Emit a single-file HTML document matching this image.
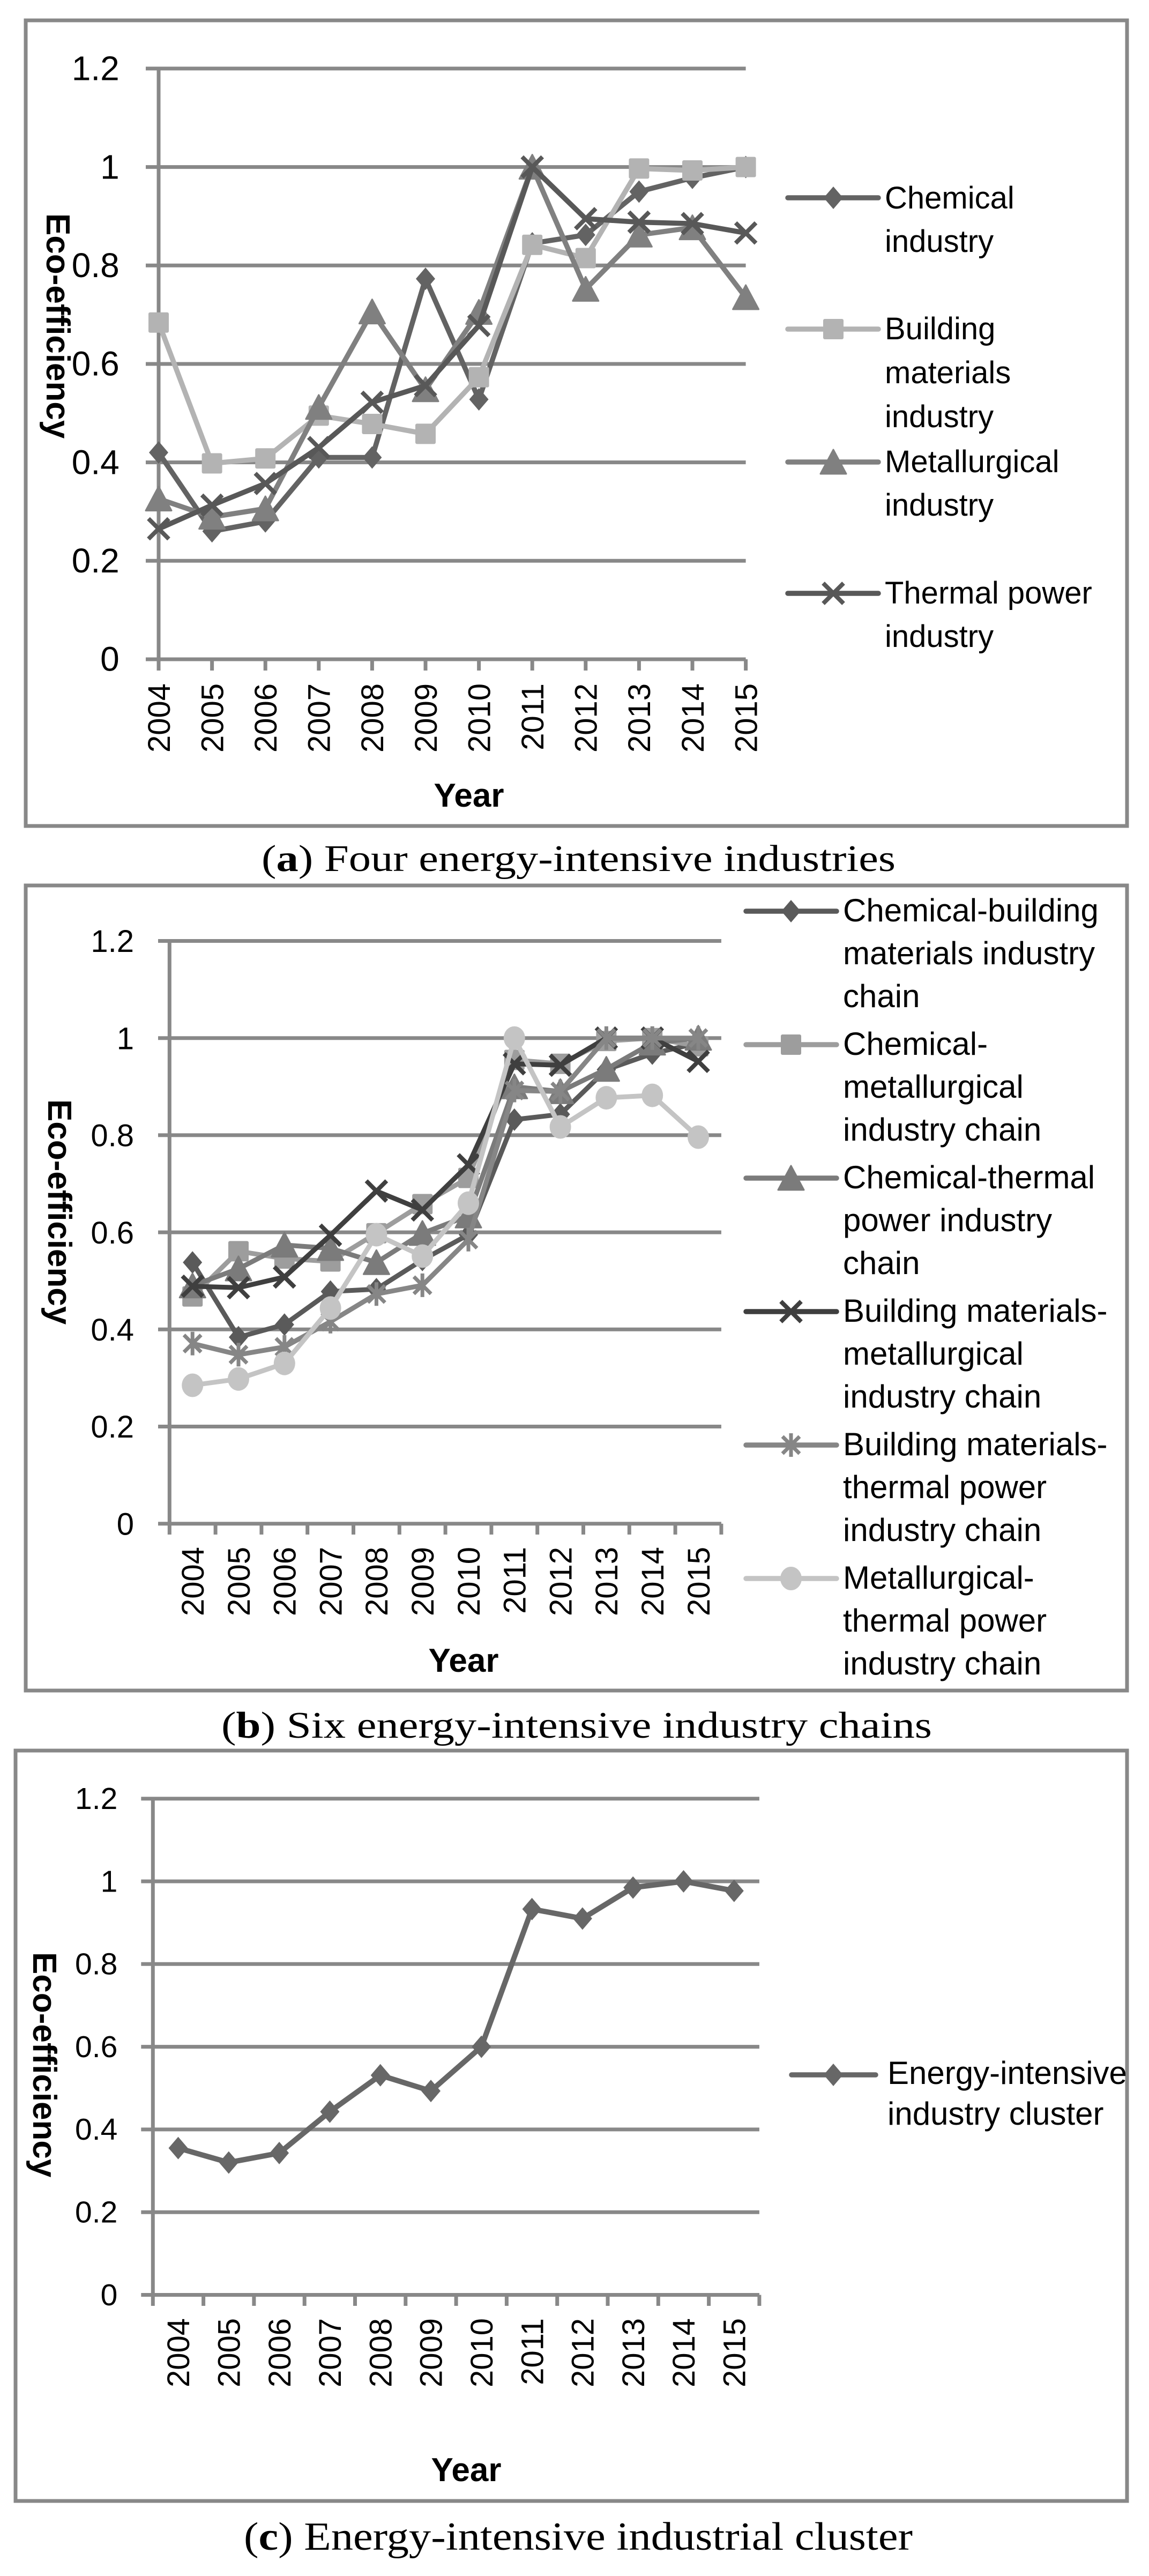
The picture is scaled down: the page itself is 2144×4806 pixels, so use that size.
<!DOCTYPE html>
<html><head><meta charset="utf-8"><style>html,body{margin:0;padding:0;background:#fff}svg{display:block}</style></head>
<body>
<svg xmlns="http://www.w3.org/2000/svg" xmlns:xlink="http://www.w3.org/1999/xlink" width="2144" height="4806" viewBox="0 0 2144 4806">
<defs>
<polygon id="dia" points="0,-21 18,0 0,21 -18,0" stroke-linejoin="round"/>
<rect id="sq" x="-19" y="-19" width="38" height="38" rx="3"/>
<polygon id="tri" points="0,-23 24,22 -24,22" stroke-width="3" stroke-linejoin="round"/>
<path id="xm" d="M-19,-19L19,19M19,-19L-19,19" fill="none" stroke-width="8" stroke-linecap="butt"/>
<path id="ast" d="M-16,-16L16,16M16,-16L-16,16M0,-22L0,22" fill="none" stroke-width="7"/>
<ellipse id="cir" rx="20" ry="22"/>
</defs>
<rect width="2144" height="4806" fill="#fff"/>

<!-- ================= CHART A ================= -->
<rect x="48" y="38" width="2055" height="1503" fill="none" stroke="#888" stroke-width="7"/>
<path d="M272,127.9H1391.6M272,311.6H1391.6M272,495.3H1391.6M272,679H1391.6M272,862.6H1391.6M272,1046.3H1391.6M272,1230H1391.6" stroke="#888" stroke-width="7" fill="none"/>
<path d="M296,127.9V1251M395.6,1230V1251M495.2,1230V1251M594.8,1230V1251M694.4,1230V1251M794,1230V1251M893.6,1230V1251M993.2,1230V1251M1092.8,1230V1251M1192.4,1230V1251M1292,1230V1251M1391.6,1230V1251" stroke="#888" stroke-width="7" fill="none"/>
<g font-family="'Liberation Sans', sans-serif" font-size="64" text-anchor="end" fill="#000">
<text x="222.7" y="149.6">1.2</text>
<text x="222.7" y="333.3">1</text>
<text x="222.7" y="517">0.8</text>
<text x="222.7" y="700.7">0.6</text>
<text x="222.7" y="884.3">0.4</text>
<text x="222.7" y="1068">0.2</text>
<text x="222.7" y="1251.7">0</text>
</g>
<g font-family="'Liberation Sans', sans-serif" font-size="58" text-anchor="end" fill="#000">
<text transform="translate(316.75,1275) rotate(-90)">2004</text>
<text transform="translate(416.35,1275) rotate(-90)">2005</text>
<text transform="translate(515.95,1275) rotate(-90)">2006</text>
<text transform="translate(615.55,1275) rotate(-90)">2007</text>
<text transform="translate(715.15,1275) rotate(-90)">2008</text>
<text transform="translate(814.75,1275) rotate(-90)">2009</text>
<text transform="translate(914.35,1275) rotate(-90)">2010</text>
<text transform="translate(1013.95,1275) rotate(-90)">2011</text>
<text transform="translate(1113.55,1275) rotate(-90)">2012</text>
<text transform="translate(1213.15,1275) rotate(-90)">2013</text>
<text transform="translate(1312.75,1275) rotate(-90)">2014</text>
<text transform="translate(1412.35,1275) rotate(-90)">2015</text>
</g>
<text transform="translate(87,398) rotate(90)" font-family="'Liberation Sans', sans-serif" font-size="62" font-weight="bold">Eco-efficiency</text>
<text x="875" y="1505" text-anchor="middle" font-family="'Liberation Sans', sans-serif" font-size="62" font-weight="bold">Year</text>

<!-- series a1 chemical -->
<g fill="#636363" stroke="#636363">
<polyline fill="none" stroke-width="9.5" stroke-linejoin="round" stroke-linecap="round" points="296,844.3 395.6,991.2 495.2,972.8 594.8,853.5 694.4,853.5 794,520.1 893.6,745.1 993.2,454 1092.8,438.3 1192.4,357.5 1292,331.8 1391.6,311.6"/>
<g stroke="none">
<use xlink:href="#dia" x="296" y="844.3"/><use xlink:href="#dia" x="395.6" y="991.2"/><use xlink:href="#dia" x="495.2" y="972.8"/><use xlink:href="#dia" x="594.8" y="853.5"/><use xlink:href="#dia" x="694.4" y="853.5"/><use xlink:href="#dia" x="794" y="520.1"/><use xlink:href="#dia" x="893.6" y="745.1"/><use xlink:href="#dia" x="993.2" y="454"/><use xlink:href="#dia" x="1092.8" y="438.3"/><use xlink:href="#dia" x="1192.4" y="357.5"/><use xlink:href="#dia" x="1292" y="331.8"/><use xlink:href="#dia" x="1391.6" y="311.6"/>
</g></g>
<!-- series a2 building -->
<g fill="#b3b3b3" stroke="#b3b3b3">
<polyline fill="none" stroke-width="9.5" stroke-linejoin="round" stroke-linecap="round" points="296,601.8 395.6,864.5 495.2,855.3 594.8,775.4 694.4,791 794,809.4 893.6,703.8 993.2,456.7 1092.8,481.5 1192.4,314.4 1292,318 1391.6,311.6"/>
<g stroke="none">
<use xlink:href="#sq" x="296" y="601.8"/><use xlink:href="#sq" x="395.6" y="864.5"/><use xlink:href="#sq" x="495.2" y="855.3"/><use xlink:href="#sq" x="594.8" y="775.4"/><use xlink:href="#sq" x="694.4" y="791"/><use xlink:href="#sq" x="794" y="809.4"/><use xlink:href="#sq" x="893.6" y="703.8"/><use xlink:href="#sq" x="993.2" y="456.7"/><use xlink:href="#sq" x="1092.8" y="481.5"/><use xlink:href="#sq" x="1192.4" y="314.4"/><use xlink:href="#sq" x="1292" y="318"/><use xlink:href="#sq" x="1391.6" y="311.6"/>
</g></g>
<!-- series a3 metallurgical -->
<g fill="#808080" stroke="#808080">
<polyline fill="none" stroke-width="9.5" stroke-linejoin="round" stroke-linecap="round" points="296,930.6 395.6,964.6 495.2,949 594.8,759.8 694.4,581.6 794,726.7 893.6,582.5 993.2,311.6 1092.8,539.4 1192.4,438.3 1292,424.6 1391.6,555"/>
<use xlink:href="#tri" x="296" y="930.6"/><use xlink:href="#tri" x="395.6" y="964.6"/><use xlink:href="#tri" x="495.2" y="949"/><use xlink:href="#tri" x="594.8" y="759.8"/><use xlink:href="#tri" x="694.4" y="581.6"/><use xlink:href="#tri" x="794" y="726.7"/><use xlink:href="#tri" x="893.6" y="582.5"/><use xlink:href="#tri" x="993.2" y="311.6"/><use xlink:href="#tri" x="1092.8" y="539.4"/><use xlink:href="#tri" x="1192.4" y="438.3"/><use xlink:href="#tri" x="1292" y="424.6"/><use xlink:href="#tri" x="1391.6" y="555"/>
</g>
<!-- series a4 thermal -->
<g stroke="#585858">
<polyline fill="none" stroke-width="9.5" stroke-linejoin="round" stroke-linecap="round" points="296,986.6 395.6,942.5 495.2,902.1 594.8,835.1 694.4,750.6 794,719.4 893.6,607.3 993.2,311.6 1092.8,408 1192.4,414.5 1292,417.2 1391.6,434.7"/>
<use xlink:href="#xm" x="296" y="986.6"/><use xlink:href="#xm" x="395.6" y="942.5"/><use xlink:href="#xm" x="495.2" y="902.1"/><use xlink:href="#xm" x="594.8" y="835.1"/><use xlink:href="#xm" x="694.4" y="750.6"/><use xlink:href="#xm" x="794" y="719.4"/><use xlink:href="#xm" x="893.6" y="607.3"/><use xlink:href="#xm" x="993.2" y="311.6"/><use xlink:href="#xm" x="1092.8" y="408"/><use xlink:href="#xm" x="1192.4" y="414.5"/><use xlink:href="#xm" x="1292" y="417.2"/><use xlink:href="#xm" x="1391.6" y="434.7"/>
</g>

<!-- legend a -->
<g stroke-width="9.5" stroke-linecap="round">
<line x1="1470" y1="369" x2="1639" y2="369" stroke="#636363"/>
<line x1="1470" y1="614" x2="1639" y2="614" stroke="#b3b3b3"/>
<line x1="1470" y1="862" x2="1639" y2="862" stroke="#808080"/>
<line x1="1470" y1="1107" x2="1639" y2="1107" stroke="#585858"/>
</g>
<use xlink:href="#dia" x="1555" y="369" fill="#636363"/>
<use xlink:href="#sq" x="1555" y="614" fill="#b3b3b3"/>
<use xlink:href="#tri" x="1555" y="862" fill="#808080" stroke="#808080"/>
<use xlink:href="#xm" x="1555" y="1107" stroke="#585858"/>
<g font-family="'Liberation Sans', sans-serif" font-size="58" fill="#000">
<text x="1651" y="389">Chemical</text>
<text x="1651" y="470">industry</text>
<text x="1651" y="633">Building</text>
<text x="1651" y="715">materials</text>
<text x="1651" y="797">industry</text>
<text x="1651" y="881">Metallurgical</text>
<text x="1651" y="962">industry</text>
<text x="1651" y="1126">Thermal power</text>
<text x="1651" y="1207">industry</text>
</g>

<text x="488" y="1625" textLength="1183" lengthAdjust="spacingAndGlyphs" font-family="'Liberation Serif', serif" font-size="70" fill="#000">(<tspan font-weight="bold">a</tspan>) Four energy-intensive industries</text>

<!-- ================= CHART B ================= -->
<rect x="48" y="1652" width="2055" height="1502" fill="none" stroke="#888" stroke-width="7"/>
<path d="M295,1755.5H1345.9M295,1936.7H1345.9M295,2117.9H1345.9M295,2299.1H1345.9M295,2480.3H1345.9M295,2661.5H1345.9M295,2842.7H1345.9" stroke="#888" stroke-width="7" fill="none"/>
<path d="M316.3,1755.5V2863M402.1,2842.7V2863M487.9,2842.7V2863M573.7,2842.7V2863M659.5,2842.7V2863M745.3,2842.7V2863M831.1,2842.7V2863M916.9,2842.7V2863M1002.7,2842.7V2863M1088.5,2842.7V2863M1174.3,2842.7V2863M1260.1,2842.7V2863M1345.9,2842.7V2863" stroke="#888" stroke-width="7" fill="none"/>
<g font-family="'Liberation Sans', sans-serif" font-size="58" text-anchor="end" fill="#000">
<text x="250" y="1776.2">1.2</text>
<text x="250" y="1957.4">1</text>
<text x="250" y="2138.6">0.8</text>
<text x="250" y="2319.8">0.6</text>
<text x="250" y="2501">0.4</text>
<text x="250" y="2682.2">0.2</text>
<text x="250" y="2863.4">0</text>
</g>
<g font-family="'Liberation Sans', sans-serif" font-size="58" text-anchor="end" fill="#000">
<text transform="translate(379.95,2886) rotate(-90)">2004</text>
<text transform="translate(465.75,2886) rotate(-90)">2005</text>
<text transform="translate(551.55,2886) rotate(-90)">2006</text>
<text transform="translate(637.35,2886) rotate(-90)">2007</text>
<text transform="translate(723.15,2886) rotate(-90)">2008</text>
<text transform="translate(808.95,2886) rotate(-90)">2009</text>
<text transform="translate(894.75,2886) rotate(-90)">2010</text>
<text transform="translate(980.55,2886) rotate(-90)">2011</text>
<text transform="translate(1066.35,2886) rotate(-90)">2012</text>
<text transform="translate(1152.15,2886) rotate(-90)">2013</text>
<text transform="translate(1237.95,2886) rotate(-90)">2014</text>
<text transform="translate(1323.75,2886) rotate(-90)">2015</text>
</g>
<text transform="translate(90,2051) rotate(90)" font-family="'Liberation Sans', sans-serif" font-size="62" font-weight="bold">Eco-efficiency</text>
<text x="865" y="3119" text-anchor="middle" font-family="'Liberation Sans', sans-serif" font-size="62" font-weight="bold">Year</text>

<!-- b1 diamond -->
<g fill="#5a5a5a" stroke="#5a5a5a">
<polyline fill="none" stroke-width="9" stroke-linejoin="round" stroke-linecap="round" points="359.2,2355.3 445,2494.8 530.8,2471.2 616.6,2409.6 702.4,2405.1 788.2,2350.7 874,2303.6 959.8,2088.9 1045.6,2078.9 1131.4,1995.6 1217.2,1965.7 1303,1945.8"/>
<g stroke="none">
<use xlink:href="#dia" x="359.2" y="2355.3"/><use xlink:href="#dia" x="445" y="2494.8"/><use xlink:href="#dia" x="530.8" y="2471.2"/><use xlink:href="#dia" x="616.6" y="2409.6"/><use xlink:href="#dia" x="702.4" y="2405.1"/><use xlink:href="#dia" x="788.2" y="2350.7"/><use xlink:href="#dia" x="874" y="2303.6"/><use xlink:href="#dia" x="959.8" y="2088.9"/><use xlink:href="#dia" x="1045.6" y="2078.9"/><use xlink:href="#dia" x="1131.4" y="1995.6"/><use xlink:href="#dia" x="1217.2" y="1965.7"/><use xlink:href="#dia" x="1303" y="1945.8"/>
</g></g>
<!-- b2 square -->
<g fill="#9d9d9d" stroke="#9d9d9d">
<polyline fill="none" stroke-width="9" stroke-linejoin="round" stroke-linecap="round" points="359.2,2418.7 445,2334.4 530.8,2348 616.6,2353.5 702.4,2300.9 788.2,2246.5 874,2197.6 959.8,1977.5 1045.6,1984.7 1131.4,1942.1 1217.2,1936.7 1303,1952.1"/>
<g stroke="none">
<use xlink:href="#sq" x="359.2" y="2418.7"/><use xlink:href="#sq" x="445" y="2334.4"/><use xlink:href="#sq" x="530.8" y="2348"/><use xlink:href="#sq" x="616.6" y="2353.5"/><use xlink:href="#sq" x="702.4" y="2300.9"/><use xlink:href="#sq" x="788.2" y="2246.5"/><use xlink:href="#sq" x="874" y="2197.6"/><use xlink:href="#sq" x="959.8" y="1977.5"/><use xlink:href="#sq" x="1045.6" y="1984.7"/><use xlink:href="#sq" x="1131.4" y="1942.1"/><use xlink:href="#sq" x="1217.2" y="1936.7"/><use xlink:href="#sq" x="1303" y="1952.1"/>
</g></g>
<!-- b3 triangle -->
<g fill="#7b7b7b" stroke="#7b7b7b">
<polyline fill="none" stroke-width="9" stroke-linejoin="round" stroke-linecap="round" points="359.2,2398.8 445,2367 530.8,2322.7 616.6,2329 702.4,2355.3 788.2,2300.9 874,2268.3 959.8,2027.3 1045.6,2036.4 1131.4,1994.7 1217.2,1945.8 1303,1936.7"/>
<use xlink:href="#tri" x="359.2" y="2398.8"/><use xlink:href="#tri" x="445" y="2367"/><use xlink:href="#tri" x="530.8" y="2322.7"/><use xlink:href="#tri" x="616.6" y="2329"/><use xlink:href="#tri" x="702.4" y="2355.3"/><use xlink:href="#tri" x="788.2" y="2300.9"/><use xlink:href="#tri" x="874" y="2268.3"/><use xlink:href="#tri" x="959.8" y="2027.3"/><use xlink:href="#tri" x="1045.6" y="2036.4"/><use xlink:href="#tri" x="1131.4" y="1994.7"/><use xlink:href="#tri" x="1217.2" y="1945.8"/><use xlink:href="#tri" x="1303" y="1936.7"/>
</g>
<!-- b4 X -->
<g stroke="#3f3f3f">
<polyline fill="none" stroke-width="9" stroke-linejoin="round" stroke-linecap="round" points="359.2,2399.7 445,2402.4 530.8,2382.5 616.6,2304.5 702.4,2222.1 788.2,2257.4 874,2173.2 959.8,1984.7 1045.6,1987.4 1131.4,1936.7 1217.2,1936.7 1303,1980.2"/>
<use xlink:href="#xm" x="359.2" y="2399.7"/><use xlink:href="#xm" x="445" y="2402.4"/><use xlink:href="#xm" x="530.8" y="2382.5"/><use xlink:href="#xm" x="616.6" y="2304.5"/><use xlink:href="#xm" x="702.4" y="2222.1"/><use xlink:href="#xm" x="788.2" y="2257.4"/><use xlink:href="#xm" x="874" y="2173.2"/><use xlink:href="#xm" x="959.8" y="1984.7"/><use xlink:href="#xm" x="1045.6" y="1987.4"/><use xlink:href="#xm" x="1131.4" y="1936.7"/><use xlink:href="#xm" x="1217.2" y="1936.7"/><use xlink:href="#xm" x="1303" y="1980.2"/>
</g>
<!-- b5 asterisk -->
<g stroke="#868686">
<polyline fill="none" stroke-width="9" stroke-linejoin="round" stroke-linecap="round" points="359.2,2506.6 445,2527.4 530.8,2512.9 616.6,2465.8 702.4,2414.2 788.2,2397.9 874,2312.7 959.8,2034.5 1045.6,2036.4 1131.4,1936.7 1217.2,1936.7 1303,1936.7"/>
<use xlink:href="#ast" x="359.2" y="2506.6"/><use xlink:href="#ast" x="445" y="2527.4"/><use xlink:href="#ast" x="530.8" y="2512.9"/><use xlink:href="#ast" x="616.6" y="2465.8"/><use xlink:href="#ast" x="702.4" y="2414.2"/><use xlink:href="#ast" x="788.2" y="2397.9"/><use xlink:href="#ast" x="874" y="2312.7"/><use xlink:href="#ast" x="959.8" y="2034.5"/><use xlink:href="#ast" x="1045.6" y="2036.4"/><use xlink:href="#ast" x="1131.4" y="1936.7"/><use xlink:href="#ast" x="1217.2" y="1936.7"/><use xlink:href="#ast" x="1303" y="1936.7"/>
</g>
<!-- b6 circle -->
<g fill="#c4c4c4" stroke="#c4c4c4">
<polyline fill="none" stroke-width="9" stroke-linejoin="round" stroke-linecap="round" points="359.2,2584.5 445,2572.7 530.8,2543.7 616.6,2440.4 702.4,2303.6 788.2,2343.5 874,2244.7 959.8,1936.7 1045.6,2102.5 1131.4,2048.1 1217.2,2043.6 1303,2121.5"/>
<g stroke="none">
<use xlink:href="#cir" x="359.2" y="2584.5"/><use xlink:href="#cir" x="445" y="2572.7"/><use xlink:href="#cir" x="530.8" y="2543.7"/><use xlink:href="#cir" x="616.6" y="2440.4"/><use xlink:href="#cir" x="702.4" y="2303.6"/><use xlink:href="#cir" x="788.2" y="2343.5"/><use xlink:href="#cir" x="874" y="2244.7"/><use xlink:href="#cir" x="959.8" y="1936.7"/><use xlink:href="#cir" x="1045.6" y="2102.5"/><use xlink:href="#cir" x="1131.4" y="2048.1"/><use xlink:href="#cir" x="1217.2" y="2043.6"/><use xlink:href="#cir" x="1303" y="2121.5"/>
</g></g>

<!-- legend b -->
<g stroke-width="9.5" stroke-linecap="round">
<line x1="1392" y1="1700" x2="1561" y2="1700" stroke="#5a5a5a"/>
<line x1="1392" y1="1949" x2="1561" y2="1949" stroke="#9d9d9d"/>
<line x1="1392" y1="2198" x2="1561" y2="2198" stroke="#7b7b7b"/>
<line x1="1392" y1="2447" x2="1561" y2="2447" stroke="#3f3f3f"/>
<line x1="1392" y1="2696" x2="1561" y2="2696" stroke="#868686"/>
<line x1="1392" y1="2945" x2="1561" y2="2945" stroke="#c4c4c4"/>
</g>
<use xlink:href="#dia" x="1476" y="1700" fill="#5a5a5a"/>
<use xlink:href="#sq" x="1476" y="1949" fill="#9d9d9d"/>
<use xlink:href="#tri" x="1476" y="2198" fill="#7b7b7b" stroke="#7b7b7b"/>
<use xlink:href="#xm" x="1476" y="2447" stroke="#3f3f3f"/>
<use xlink:href="#ast" x="1476" y="2696" stroke="#868686"/>
<use xlink:href="#cir" x="1476" y="2945" fill="#c4c4c4"/>
<g font-family="'Liberation Sans', sans-serif" font-size="60" fill="#000">
<text x="1573" y="1719">Chemical-building</text>
<text x="1573" y="1799">materials industry</text>
<text x="1573" y="1879">chain</text>
<text x="1573" y="1968">Chemical-</text>
<text x="1573" y="2048">metallurgical</text>
<text x="1573" y="2128">industry chain</text>
<text x="1573" y="2217">Chemical-thermal</text>
<text x="1573" y="2297">power industry</text>
<text x="1573" y="2377">chain</text>
<text x="1573" y="2466">Building materials-</text>
<text x="1573" y="2546">metallurgical</text>
<text x="1573" y="2626">industry chain</text>
<text x="1573" y="2715">Building materials-</text>
<text x="1573" y="2795">thermal power</text>
<text x="1573" y="2875">industry chain</text>
<text x="1573" y="2964">Metallurgical-</text>
<text x="1573" y="3044">thermal power</text>
<text x="1573" y="3124">industry chain</text>
</g>

<text x="413" y="3242" textLength="1326" lengthAdjust="spacingAndGlyphs" font-family="'Liberation Serif', serif" font-size="70" fill="#000">(<tspan font-weight="bold">b</tspan>) Six energy-intensive industry chains</text>

<!-- ================= CHART C ================= -->
<rect x="29" y="3266" width="2074" height="1400" fill="none" stroke="#888" stroke-width="7"/>
<path d="M263.3,3355.7H1416.9M263.3,3510H1416.9M263.3,3664.3H1416.9M263.3,3818.6H1416.9M263.3,3972.9H1416.9M263.3,4127.2H1416.9M263.3,4281.5H1416.9" stroke="#888" stroke-width="7" fill="none"/>
<path d="M285.3,3355.7V4302M379.6,4281.5V4302M473.9,4281.5V4302M568.2,4281.5V4302M662.5,4281.5V4302M756.8,4281.5V4302M851.1,4281.5V4302M945.4,4281.5V4302M1039.7,4281.5V4302M1134,4281.5V4302M1228.3,4281.5V4302M1322.6,4281.5V4302M1416.9,4281.5V4302" stroke="#888" stroke-width="7" fill="none"/>
<g font-family="'Liberation Sans', sans-serif" font-size="57" text-anchor="end" fill="#000">
<text x="219.3" y="3375">1.2</text>
<text x="219.3" y="3529.3">1</text>
<text x="219.3" y="3683.6">0.8</text>
<text x="219.3" y="3837.9">0.6</text>
<text x="219.3" y="3992.2">0.4</text>
<text x="219.3" y="4146.5">0.2</text>
<text x="219.3" y="4300.8">0</text>
</g>
<g font-family="'Liberation Sans', sans-serif" font-size="58" text-anchor="end" fill="#000">
<text transform="translate(353.2,4325) rotate(-90)">2004</text>
<text transform="translate(447.5,4325) rotate(-90)">2005</text>
<text transform="translate(541.8,4325) rotate(-90)">2006</text>
<text transform="translate(636.1,4325) rotate(-90)">2007</text>
<text transform="translate(730.4,4325) rotate(-90)">2008</text>
<text transform="translate(824.7,4325) rotate(-90)">2009</text>
<text transform="translate(919,4325) rotate(-90)">2010</text>
<text transform="translate(1013.3,4325) rotate(-90)">2011</text>
<text transform="translate(1107.6,4325) rotate(-90)">2012</text>
<text transform="translate(1201.9,4325) rotate(-90)">2013</text>
<text transform="translate(1296.2,4325) rotate(-90)">2014</text>
<text transform="translate(1390.5,4325) rotate(-90)">2015</text>
</g>
<text transform="translate(62,3642) rotate(90)" font-family="'Liberation Sans', sans-serif" font-size="62" font-weight="bold">Eco-efficiency</text>
<text x="870" y="4629" text-anchor="middle" font-family="'Liberation Sans', sans-serif" font-size="62" font-weight="bold">Year</text>

<g fill="#676767" stroke="#676767">
<polyline fill="none" stroke-width="10" stroke-linejoin="round" stroke-linecap="round" points="332.5,4007.6 426.8,4034.6 521.1,4016.9 615.4,3939.7 709.7,3871.8 804,3901.1 898.3,3818.6 992.6,3561.7 1086.9,3579.4 1181.2,3521.6 1275.5,3510 1369.8,3527.7"/>
<g stroke="none">
<use xlink:href="#dia" x="332.5" y="4007.6"/><use xlink:href="#dia" x="426.8" y="4034.6"/><use xlink:href="#dia" x="521.1" y="4016.9"/><use xlink:href="#dia" x="615.4" y="3939.7"/><use xlink:href="#dia" x="709.7" y="3871.8"/><use xlink:href="#dia" x="804" y="3901.1"/><use xlink:href="#dia" x="898.3" y="3818.6"/><use xlink:href="#dia" x="992.6" y="3561.7"/><use xlink:href="#dia" x="1086.9" y="3579.4"/><use xlink:href="#dia" x="1181.2" y="3521.6"/><use xlink:href="#dia" x="1275.5" y="3510"/><use xlink:href="#dia" x="1369.8" y="3527.7"/>
</g></g>

<line x1="1477" y1="3871" x2="1634" y2="3871" stroke="#676767" stroke-width="9.5" stroke-linecap="round"/>
<use xlink:href="#dia" x="1555" y="3871" fill="#676767"/>
<g font-family="'Liberation Sans', sans-serif" font-size="60" fill="#000">
<text x="1656" y="3888">Energy-intensive</text>
<text x="1656" y="3964">industry cluster</text>
</g>

<text x="455" y="4757" textLength="1248" lengthAdjust="spacingAndGlyphs" font-family="'Liberation Serif', serif" font-size="74" fill="#000">(<tspan font-weight="bold">c</tspan>) Energy-intensive industrial cluster</text>
</svg>
</body></html>
